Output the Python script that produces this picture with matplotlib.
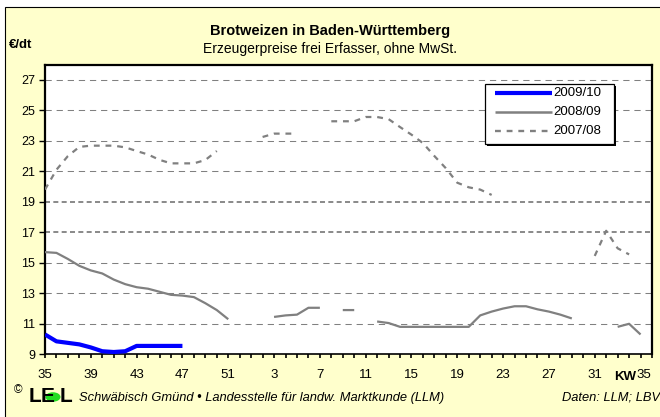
import numpy as np
import matplotlib
matplotlib.use("Agg")
import matplotlib.pyplot as plt
from matplotlib.patches import Rectangle, Circle
from matplotlib.lines import Line2D

plt.rcParams['font.family'] = ['Liberation Sans', 'DejaVu Sans']
plt.rcParams['lines.scale_dashes'] = False

nan = np.nan

# x positions: week index 0 = KW35 (first year) ... 17 = KW52, 18 = KW1 ... 52 = KW35
tick_pos = [0, 4, 8, 12, 16, 20, 24, 28, 32, 36, 40, 44, 48, 52]
tick_labels = ['35', '39', '43', '47', '51', '3', '7', '11', '15', '19', '23', '27', '31', '35']

series_names = ['2009/10', '2008/09', '2007/08']

s2009 = [10.3, 9.85, 9.75, 9.65, 9.45, 9.2, 9.15, 9.2, 9.55, 9.55, 9.55, 9.55, 9.55] + [nan] * 40

s2008 = ([15.7, 15.65, 15.25, 14.8, 14.5, 14.3, 13.9, 13.6, 13.4, 13.3, 13.1, 12.9, 12.85,
          12.75, 12.35, 11.9, 11.3]
         + [nan, nan, nan]
         + [11.45, 11.55, 11.6, 12.05, 12.05]
         + [nan]
         + [11.9, 11.9]
         + [nan]
         + [11.15, 11.05, 10.8, 10.8, 10.8, 10.8, 10.8, 10.8, 10.8, 11.55, 11.8,
            12.0, 12.15, 12.15, 11.95, 11.8, 11.6, 11.35]
         + [nan, nan, nan]
         + [10.8, 11.0, 10.3])

s2007 = ([19.8, 21.1, 22.0, 22.6, 22.68, 22.68, 22.68, 22.57, 22.33, 22.1, 21.75, 21.52,
          21.52, 21.52, 21.74, 22.33]
         + [nan, nan, nan]
         + [23.25, 23.47, 23.47, 23.47]
         + [nan, nan]
         + [24.28, 24.28, 24.28, 24.56, 24.56, 24.42, 23.9, 23.4, 22.85, 22.0, 21.2, 20.25,
            19.95, 19.8, 19.45]
         + [nan] * 8
         + [15.45, 17.1, 15.95, 15.55]
         + [nan])

W, H = 660, 417
fig = plt.figure(figsize=(6.6, 4.17), dpi=100)
fig.patch.set_facecolor('white')

def fx(px):
    return px / W

def fy(py):
    return 1 - py / H

YEL = '#FFFFCC'
GRAY = '#808080'

# chart area background
fig.add_artist(Rectangle((fx(5), -0.05), 1.2, fy(7) + 0.05, transform=fig.transFigure,
                         facecolor=YEL, edgecolor='black', lw=0.8, zorder=0))

ax = fig.add_axes([fx(45), fy(354.3), (652 - 45) / W, (354.3 - 65.3) / H])
ax.set_facecolor('white')
x = np.arange(len(s2008))

# gridlines
for v in [11, 13, 15, 21, 23, 25, 27]:
    ax.axhline(v, color=GRAY, lw=0.75, dashes=(4.5, 3.5), zorder=1)
for v in [17, 19]:
    ax.axhline(v, color=GRAY, lw=1.3, dashes=(3.6, 2.4), zorder=1)

ax.plot(x, s2007, color=GRAY, lw=1.6, dashes=(4.2, 4.2), zorder=3)
ax.plot(x, s2008, color=GRAY, lw=1.6, zorder=3, solid_capstyle='butt')
ax.plot(x[:len(s2009)], s2009, color='#0000FF', lw=3.0, zorder=4, solid_capstyle='butt')

ax.set_xlim(0, 53)
ax.set_ylim(9, 27.95)
ax.set_yticks(np.arange(9, 28, 2))
ax.set_yticklabels([str(v) for v in range(9, 28, 2)], fontsize=9)
ax.set_xticks(np.arange(0, 54))
ax.set_xticklabels([''] * 54)
ax.tick_params(axis='y', direction='out', length=4, width=1, pad=3)
ax.tick_params(axis='x', direction='out', length=3, width=1.2, pad=2)
for sp in ax.spines.values():
    sp.set_linewidth(1.6)
    sp.set_color('black')
ax.spines['bottom'].set_linewidth(1.2)

# x labels (placed as text under the ticks)
for p, lab in zip(tick_pos, tick_labels):
    xp = 45 + p * (652 - 45) / 53
    if p == 52:
        fig.text(fx(xp - 4), fy(375), lab, fontsize=9.5, ha='left', va='center')
        fig.text(fx(xp - 4), fy(376.5), 'KW', fontsize=9.5, fontweight='bold', ha='right', va='center')
    else:
        fig.text(fx(xp), fy(375), lab, fontsize=9.5, ha='center', va='center')

# titles
fig.text(fx(330), fy(31), 'Brotweizen in Baden-Württemberg', fontsize=10.5, fontweight='bold',
         ha='center', va='center')
fig.text(fx(330), fy(49), 'Erzeugerpreise frei Erfasser, ohne MwSt.', fontsize=10,
         ha='center', va='center')
fig.text(fx(9), fy(45), '€/dt', fontsize=9.5, fontweight='bold', ha='left', va='center')

# legend
lx0, ly0, lx1, ly1 = 485, 84, 614, 144
fig.add_artist(Rectangle((fx(lx0 + 2), fy(ly1 + 2)), (lx1 - lx0) / W, (ly1 - ly0) / H,
                         transform=fig.transFigure, facecolor='black', edgecolor='black',
                         lw=0, zorder=5))
fig.add_artist(Rectangle((fx(lx0), fy(ly1)), (lx1 - lx0) / W, (ly1 - ly0) / H,
                         transform=fig.transFigure, facecolor='white', edgecolor='black',
                         lw=0.9, zorder=6))
leg_y = [93.3, 112.3, 130.7]
leg_style = [dict(color='#0000FF', lw=3.0), dict(color=GRAY, lw=1.8),
             dict(color=GRAY, lw=1.7, dashes=(4.2, 4.2))]
for name, yy, st in zip(series_names, leg_y, leg_style):
    fig.add_artist(Line2D([fx(495), fx(552)], [fy(yy), fy(yy)], transform=fig.transFigure,
                          zorder=7, solid_capstyle='butt', **st))
    fig.text(fx(553), fy(yy), name, fontsize=9.5, ha='left', va='center', zorder=8)

# footer
fig.text(fx(14), fy(390), '©', fontsize=8.5, ha='left', va='center')
fig.add_artist(Circle((fx(53), fy(397)), radius=7.5 / W, transform=fig.transFigure,
                      facecolor='#22DD22', edgecolor='none', zorder=2))
fig.text(fx(29), fy(397), 'L', fontsize=15, fontweight='bold', ha='left', va='center', zorder=3)
fig.text(fx(41), fy(397), 'E', fontsize=15, fontweight='bold', ha='left', va='center', zorder=3)
fig.text(fx(60), fy(397), 'L', fontsize=15, fontweight='bold', ha='left', va='center', zorder=3)
fig.text(fx(79), fy(398), 'Schwäbisch Gmünd • Landesstelle für landw. Marktkunde (LLM)',
         fontsize=9.3, fontstyle='italic', ha='left', va='center')
fig.text(fx(660), fy(398), 'Daten: LLM; LBV', fontsize=9.3, fontstyle='italic',
         ha='right', va='center')

fig.savefig('out.png', dpi=100, facecolor=fig.get_facecolor())
